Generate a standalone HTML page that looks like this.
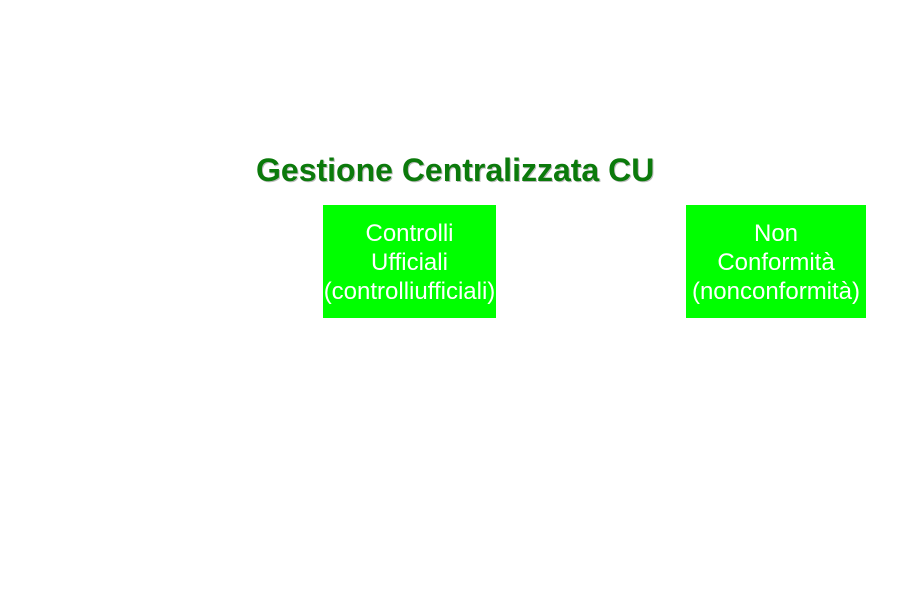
<!DOCTYPE html>
<html><head><meta charset="utf-8"><style>
body{margin:0;width:917px;height:591px;background:#fff;position:relative;overflow:hidden;font-family:"Liberation Sans",sans-serif}
.t{position:absolute;left:256px;top:150px;font-size:32px;line-height:40px;font-weight:bold;color:#0b7a0b;text-shadow:1px 1px 0 #bbb;white-space:nowrap}
.b{position:absolute;top:205px;height:113px;background:#00ff00;color:#fff;font-size:24px;line-height:29px;text-align:center;box-sizing:border-box;padding-top:14px;white-space:nowrap}
</style></head><body>
<div class="t">Gestione Centralizzata CU</div>
<div class="b" style="left:323px;width:173px">Controlli<br>Ufficiali<br>(controlliufficiali)</div>
<div class="b" style="left:686px;width:180px">Non<br>Conformità<br>(nonconformità)</div>
</body></html>
